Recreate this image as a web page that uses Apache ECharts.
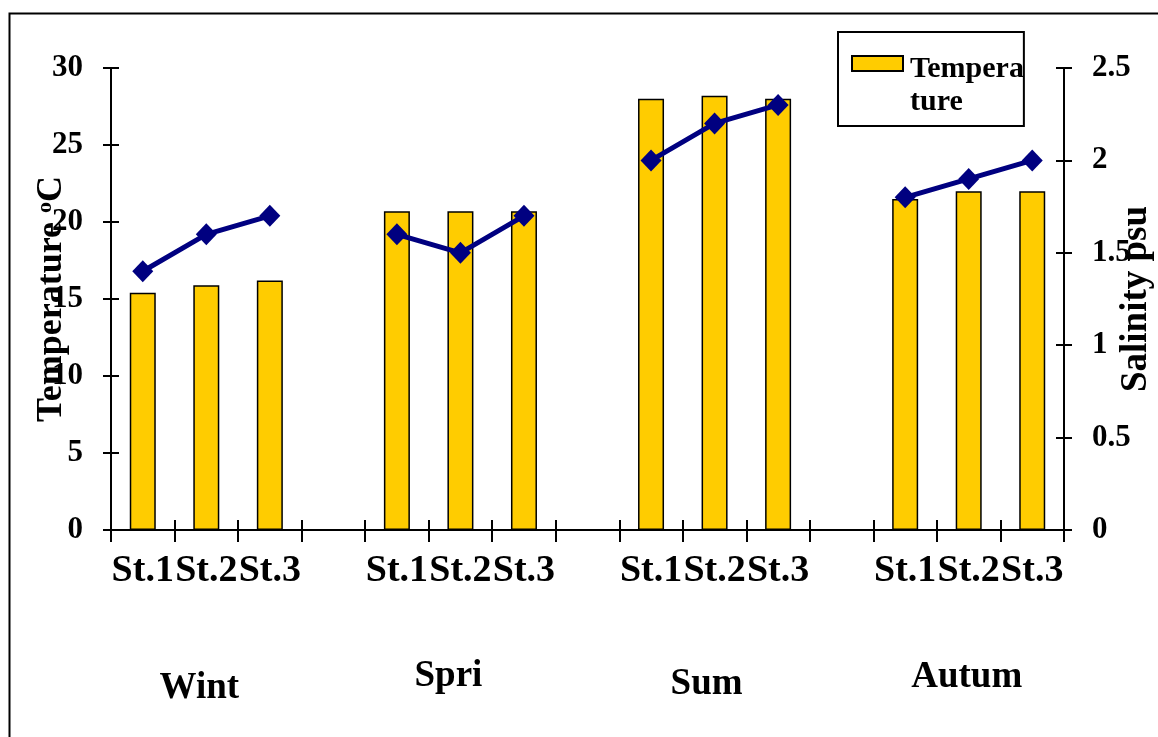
<!DOCTYPE html>
<html>
<head>
<meta charset="utf-8">
<script src="https://cdn.jsdelivr.net/npm/echarts@6/dist/echarts.min.js"></script>
<style>html,body{margin:0;padding:0;background:#fff}#c{width:1158px;height:737px}</style>
</head>
<body>
<div id="c"></div>
<script>
// categories: 3 stations per season, an empty slot between seasons
const stations = ['St.1','St.2','St.3','','St.1','St.2','St.3','','St.1','St.2','St.3','','St.1','St.2','St.3'];
const seasons = ['', 'Wint', '', '', '', 'Spri', '', '', '', 'Sum', '', '', '', 'Autum', ''];
const temperature = [15.4, 15.9, 16.2, null, 20.7, 20.7, 20.7, null, 28.0, 28.2, 28.0, null, 21.5, 22.0, 22.0];
const salinity = [1.4, 1.6, 1.7, null, 1.6, 1.5, 1.7, null, 2.0, 2.2, 2.3, null, 1.8, 1.9, 2.0];
const tempTicks = {min: 0, max: 30, interval: 5};
const salTicks = {min: 0, max: 2.5, interval: 0.5};

const FONT = 'Liberation Serif, Times New Roman, serif';
const seasonStyle = {
  'Wint': {padding: [12, 14, 0, 0]},
  'Spri': {padding: [0, 24, 0, 0]},
  'Sum': {padding: [8, 16, 0, 0]},
  'Autum': {padding: [1, 4, 0, 0]}
};
const seasonData = seasons.map(s => s ? {value: s, textStyle: seasonStyle[s]} : s);

const chart = echarts.init(document.getElementById('c'), null, {renderer: 'canvas'});
const axisLine = {show: true, lineStyle: {color: '#000', width: 2}};
const tickStyle = {color: '#000', width: 2};
chart.setOption({
  animation: false,
  backgroundColor: '#fff',
  textStyle: {fontFamily: FONT},
  grid: {left: 111, right: 94, top: 68, bottom: 207, containLabel: false, outerBoundsMode: 'none'},
  graphic: [{
    type: 'rect', left: 7, top: 11, silent: true,
    shape: {width: 1200, height: 800},
    style: {fill: 'none', stroke: '#000', lineWidth: 2}
  }],
  legend: {
    data: ['Temperature'],
    left: 838, top: 32,
    orient: 'vertical',
    padding: [-23.5, 0, 7.5, 13],
    borderColor: '#000', borderWidth: 2,
    itemWidth: 51, itemHeight: 15,
    icon: 'rect',
    formatter: () => '{b| }\nTempera\nture',
    textStyle: {fontFamily: FONT, fontWeight: 'bold', fontSize: 30, color: '#000',
      lineHeight: 33, width: 108, overflow: 'none', padding: [0, 0, 0, 2],
      rich: {b: {fontSize: 30, lineHeight: 44}}}
  },
  xAxis: [{
    type: 'category', data: stations, position: 'bottom',
    axisLine: axisLine,
    axisTick: {show: true, length: 12, lineStyle: tickStyle, interval: 0},
    axisLabel: {interval: 0, margin: 22, fontFamily: FONT, fontWeight: 'bold', fontSize: 38, color: '#000'}
  }, {
    type: 'category', data: stations, position: 'bottom',
    axisLine: {show: false},
    axisTick: {show: true, inside: true, length: 10, lineStyle: tickStyle, interval: 0},
    axisLabel: {show: false}
  }, {
    type: 'category', data: seasonData, position: 'bottom',
    axisLine: {show: false}, axisTick: {show: false},
    axisLabel: {interval: 0, margin: 128, fontFamily: FONT, fontWeight: 'bold', fontSize: 37, color: '#000'}
  }],
  yAxis: [{
    type: 'value', position: 'left', min: tempTicks.min, max: tempTicks.max, interval: tempTicks.interval,
    name: 'Temperature {sup|o}C', nameLocation: 'middle', nameGap: 41, nameMoveOverlap: false,
    nameTextStyle: {fontFamily: FONT, fontWeight: 'bold', fontSize: 36, color: '#000',
      rich: {sup: {fontFamily: FONT, fontWeight: 'bold', fontSize: 22, color: '#000', verticalAlign: 'top', padding: [0, 0, 14, 0]}}},
    axisLine: axisLine,
    axisTick: {show: true, length: 8, lineStyle: tickStyle},
    splitLine: {show: false},
    axisLabel: {margin: 28, fontFamily: FONT, fontWeight: 'bold', fontSize: 31, color: '#000'}
  }, {
    type: 'value', position: 'right', min: salTicks.min, max: salTicks.max, interval: salTicks.interval,
    name: 'Salinity psu', nameLocation: 'middle', nameGap: 54, nameMoveOverlap: false,
    nameTextStyle: {fontFamily: FONT, fontWeight: 'bold', fontSize: 37, color: '#000'},
    axisLine: axisLine,
    axisTick: {show: true, length: 8, lineStyle: tickStyle},
    splitLine: {show: false},
    axisLabel: {margin: 28, fontFamily: FONT, fontWeight: 'bold', fontSize: 31, color: '#000'}
  }, {
    type: 'value', position: 'left', min: tempTicks.min, max: tempTicks.max, interval: tempTicks.interval,
    axisLine: {show: false}, splitLine: {show: false}, axisLabel: {show: false},
    axisTick: {show: true, inside: true, length: 8, lineStyle: tickStyle}
  }, {
    type: 'value', position: 'right', min: salTicks.min, max: salTicks.max, interval: salTicks.interval,
    axisLine: {show: false}, splitLine: {show: false}, axisLabel: {show: false},
    axisTick: {show: true, inside: true, length: 8, lineStyle: tickStyle}
  }],
  series: [{
    name: 'Temperature', type: 'bar', xAxisIndex: 0, yAxisIndex: 0,
    data: temperature, barWidth: 26,
    itemStyle: {color: '#FFCC00', borderColor: '#000', borderWidth: 1.5}
  }, {
    name: 'Salinity', type: 'line', xAxisIndex: 0, yAxisIndex: 1,
    data: salinity, connectNulls: false,
    symbol: 'diamond', symbolSize: [21, 22],
    lineStyle: {color: '#000080', width: 5},
    itemStyle: {color: '#000080'}
  }]
});
</script>
</body>
</html>
